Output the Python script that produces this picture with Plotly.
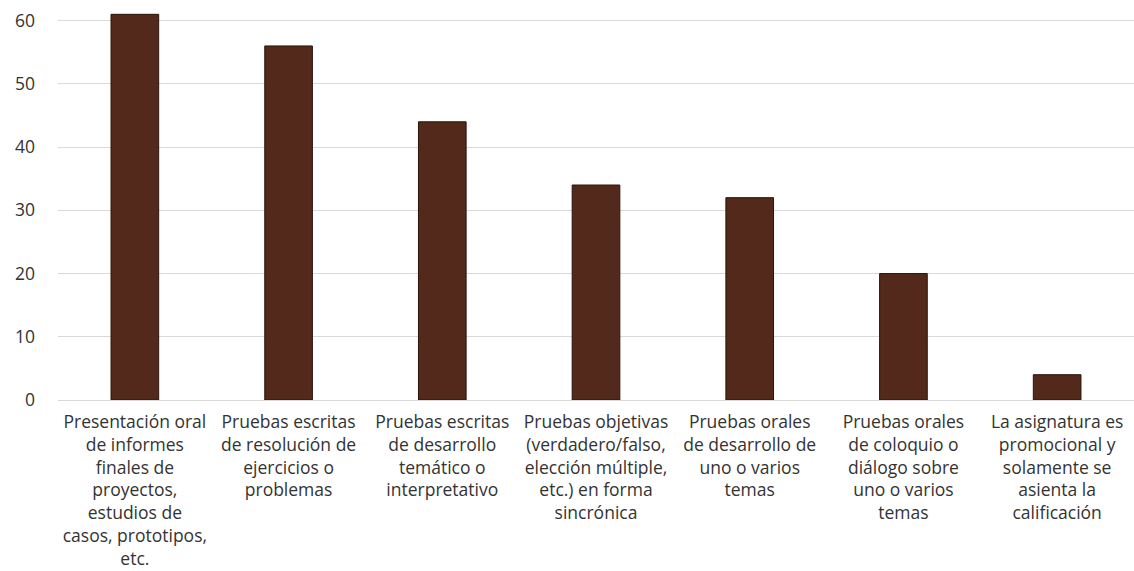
import plotly.graph_objects as go

categories = [
    "Presentación oral<br>de informes<br>finales de<br>proyectos,<br>estudios de<br>casos, prototipos,<br>etc.",
    "Pruebas escritas<br>de resolución de<br>ejercicios o<br>problemas",
    "Pruebas escritas<br>de desarrollo<br>temático o<br>interpretativo",
    "Pruebas objetivas<br>(verdadero/falso,<br>elección múltiple,<br>etc.) en forma<br>sincrónica",
    "Pruebas orales<br>de desarrollo de<br>uno o varios<br>temas",
    "Pruebas orales<br>de coloquio o<br>diálogo sobre<br>uno o varios<br>temas",
    "La asignatura es<br>promocional y<br>solamente se<br>asienta la<br>calificación",
]
values = [61, 56, 44, 34, 32, 20, 4]
y_ticks = [0, 10, 20, 30, 40, 50, 60]

fig = go.Figure(
    go.Bar(
        x=categories,
        y=values,
        marker=dict(color="#52291A", line=dict(color="#2a140c", width=1)),
        width=0.31,
    )
)

fig.update_layout(
    width=1134,
    height=571,
    margin=dict(l=58, r=0, t=8, b=171),
    plot_bgcolor="white",
    paper_bgcolor="white",
    showlegend=False,
    font=dict(family="Open Sans", size=17.5, color="#333333"),
)
fig.update_xaxes(
    tickfont=dict(size=17.5, color="#333333"),
    showline=True,
    linecolor="#d9d9d9",
    linewidth=1,
    ticks="",
    ticklabelstandoff=6,
)
fig.update_yaxes(
    range=[0, 62],
    tickvals=y_ticks,
    tickfont=dict(size=17.5, color="#333333"),
    showgrid=True,
    gridcolor="#d9d9d9",
    gridwidth=1,
    zeroline=False,
    ticks="",
    ticklabelstandoff=22,
)

fig.write_html("out.html")
